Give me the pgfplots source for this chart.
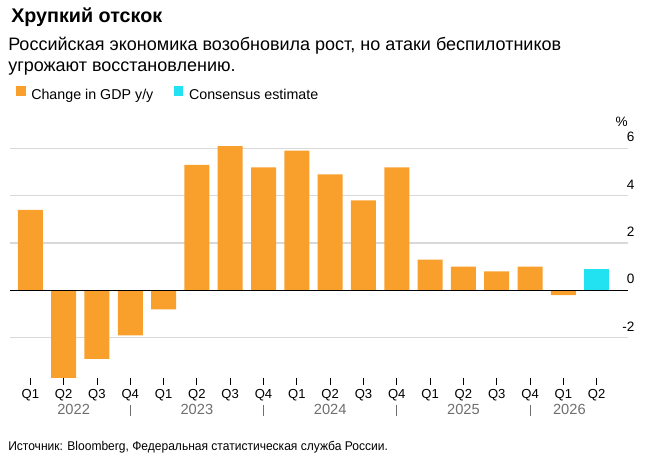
\documentclass[border=0pt]{standalone}
\usepackage{fontspec}
\setmainfont{Liberation Sans}
\usepackage{pgfplots}
\pgfplotsset{compat=1.18}
\definecolor{gdporange}{HTML}{F9A02C}
\definecolor{conscyan}{HTML}{22E2F2}
\definecolor{gridgray}{HTML}{D9D9D9}
\definecolor{yeargray}{HTML}{6E6E6E}
\begin{document}
\begin{tikzpicture}
\begin{scope}[x=0.75pt,y=0.75pt]
\path[use as bounding box] (0,0) rectangle (651,453);
% title and subtitle
\node[anchor=base west,inner sep=0,font=\bfseries\fontsize{14.8}{16}\selectfont] at (11,430.3) {Хрупкий отскок};
\node[anchor=base west,inner sep=0,font=\fontsize{13.5}{15}\selectfont] at (8,402) {Российская экономика возобновила рост, но атаки беспилотников};
\node[anchor=base west,inner sep=0,font=\fontsize{13.5}{15}\selectfont] at (8,381.3) {угрожают восстановлению.};
% source
\node[anchor=base west,inner sep=0,font=\fontsize{9.5}{11}\selectfont] at (8,2) {\scalebox{0.95}[1]{Источник: Bloomberg, Федеральная статистическая служба России.}};
% percent sign
\node[anchor=base east,inner sep=0,font=\fontsize{10.2}{12}\selectfont] at (628,326) {\%};
\end{scope}
\begin{axis}[
  at={(7.5pt,56.325pt)}, anchor=south west,
  width=463.5pt, height=175.7pt, scale only axis,
  xmin=-0.61, xmax=17.94, ymin=-3.7, ymax=6.2,
  clip=false,
  axis line style={draw=none},
  ymajorgrids, grid style={gridgray, line width=0.8pt},
  ytick={-2,0,2,4,6}, yticklabels={-2,0,2,4,6},
  ytick pos=right, yticklabel pos=right,
  ytick style={draw=none},
  yticklabel style={anchor=south east, inner sep=0pt, yshift=4.5pt, font=\fontsize{10.2}{12}\selectfont},
  xtick={0,...,17},
  xticklabels={Q1,Q2,Q3,Q4,Q1,Q2,Q3,Q4,Q1,Q2,Q3,Q4,Q1,Q2,Q3,Q4,Q1,Q2},
  xtick pos=left, tick align=outside, major tick length=5pt,
  xtick style={black, line width=0.6pt},
  xticklabel style={anchor=north, font=\fontsize{9.8}{11}\selectfont},
  legend style={at={(rel axis cs:0,1)}, anchor=south west, xshift=1.5pt, yshift=27.75pt, draw=none, fill=none,
    legend columns=-1, font=\fontsize{10.7}{12}\selectfont,
    /tikz/every even column/.append style={column sep=13.5pt}},
  legend image code/.code={\fill[#1] (0pt,-0.5pt) rectangle (7pt,6.5pt); \path (0pt,0pt) -- (9.25pt,0pt);},
]
\addplot[ybar, bar width=0.75, bar shift=0pt, fill=gdporange, draw=none] coordinates {
 (0,3.4) (1,-3.7) (2,-2.9) (3,-1.9) (4,-0.8) (5,5.3) (6,6.1) (7,5.2) (8,5.9)
 (9,4.9) (10,3.8) (11,5.2) (12,1.3) (13,1.0) (14,0.8) (15,1.0) (16,-0.2)};
\addlegendentry{Change in GDP y/y}
\addplot[ybar, bar width=0.75, bar shift=0pt, fill=conscyan, draw=none] coordinates {(17,0.9)};
\addlegendentry{Consensus estimate}
\draw[black, line width=0.8pt] (axis cs:-0.61,0) -- (axis cs:17.94,0);
% year labels
\node[anchor=base, inner sep=0, text=yeargray, font=\fontsize{11}{12}\selectfont] at (axis cs:1.3,-5.267) {2022};
\node[anchor=base, inner sep=0, text=yeargray, font=\fontsize{11}{12}\selectfont] at (axis cs:5.0,-5.267) {2023};
\node[anchor=base, inner sep=0, text=yeargray, font=\fontsize{11}{12}\selectfont] at (axis cs:9.0,-5.267) {2024};
\node[anchor=base, inner sep=0, text=yeargray, font=\fontsize{11}{12}\selectfont] at (axis cs:13.0,-5.267) {2025};
\node[anchor=base, inner sep=0, text=yeargray, font=\fontsize{11}{12}\selectfont] at (axis cs:16.18,-5.267) {2026};
\draw[yeargray, line width=0.6pt] (axis cs:3,-4.85) -- (axis cs:3,-5.3);
\draw[yeargray, line width=0.6pt] (axis cs:7,-4.85) -- (axis cs:7,-5.3);
\draw[yeargray, line width=0.6pt] (axis cs:11,-4.85) -- (axis cs:11,-5.3);
\draw[yeargray, line width=0.6pt] (axis cs:15,-4.85) -- (axis cs:15,-5.3);
\end{axis}
\end{tikzpicture}
\end{document}
